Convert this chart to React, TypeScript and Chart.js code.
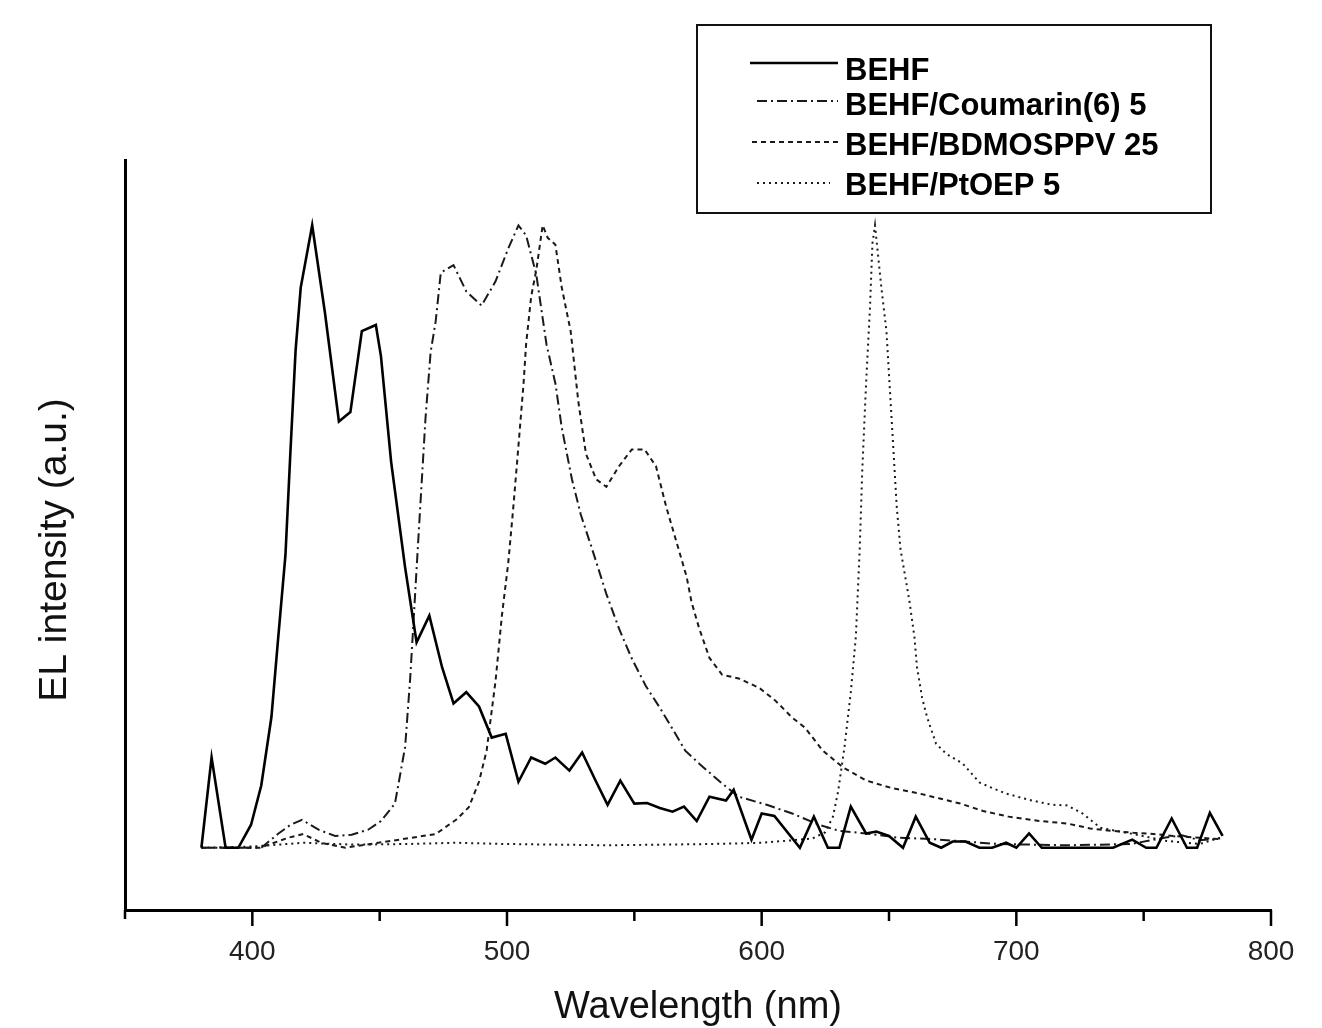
import React, { useEffect, useRef } from 'react';
import { Chart, registerables } from 'chart.js';

Chart.register(...registerables);

// ---------- data ----------
const seriesNames = ['BEHF', 'BEHF/Coumarin(6) 5', 'BEHF/BDMOSPPV 25', 'BEHF/PtOEP 5'];
const xTitle = 'Wavelength (nm)';
const yTitle = 'EL intensity (a.u.)';
const xTickValues = [350, 400, 450, 500, 550, 600, 650, 700, 750, 800];
const xTickLabels = ['', '400', '', '500', '', '600', '', '700', '', '800'];

const behfWl = [380, 384, 389.5, 394.5, 399.5, 403.5, 407.5, 410, 413, 415, 417, 419, 423.5, 428.5, 434, 438.5, 443, 448.5, 450.5, 454.5, 460, 464.5, 469.5, 474.5, 479, 484, 489, 494, 499.5, 504.5, 509.5, 515, 519, 524.5, 529.5, 535, 539.5, 544.5, 550, 555, 560, 565, 569.5, 574.5, 579.5, 586, 589, 596, 600, 605, 615, 620.5, 626, 630.5, 635, 641, 645, 650, 655.5, 660.5, 666, 670.5, 675, 680, 685.5, 690.5, 696, 700, 705, 710, 714, 738, 745.5, 751, 755, 761, 767, 771, 776, 781];
const behfVal = [0, 0.145, 0, 0, 0.037, 0.1, 0.21, 0.33, 0.47, 0.64, 0.8, 0.9, 1.0, 0.86, 0.685, 0.7, 0.83, 0.84, 0.79, 0.62, 0.45, 0.33, 0.373, 0.29, 0.232, 0.25, 0.227, 0.177, 0.183, 0.106, 0.145, 0.135, 0.145, 0.124, 0.153, 0.106, 0.069, 0.108, 0.071, 0.072, 0.064, 0.058, 0.066, 0.043, 0.082, 0.076, 0.093, 0.013, 0.055, 0.051, 0, 0.05, 0, 0, 0.066, 0.023, 0.026, 0.019, 0, 0.05, 0.008, 0, 0.01, 0.01, 0, 0, 0.008, 0, 0.023, 0, 0, 0, 0.013, 0, 0, 0.047, 0, 0, 0.056, 0.019];

const coumWl = [380, 403.5, 410, 415, 419.5, 426, 432.5, 439, 445.5, 450.5, 456, 460, 462, 464, 465.5, 466.5, 468, 470, 472, 474, 479, 484, 490, 495.5, 500.5, 504.5, 507.5, 511.5, 513.5, 515.5, 519, 521.5, 525.5, 529, 533.5, 539, 544, 549, 554.5, 560, 565, 570, 575.5, 584.5, 591, 602, 612, 622.5, 630.5, 641, 654, 667, 680, 693, 720, 745, 758, 765, 772, 780];
const coumVal = [0, 0, 0.022, 0.037, 0.045, 0.029, 0.019, 0.021, 0.029, 0.043, 0.071, 0.162, 0.273, 0.413, 0.518, 0.587, 0.69, 0.796, 0.846, 0.924, 0.936, 0.894, 0.871, 0.91, 0.963, 1.0, 0.984, 0.921, 0.865, 0.809, 0.746, 0.675, 0.592, 0.535, 0.479, 0.408, 0.352, 0.304, 0.26, 0.225, 0.191, 0.156, 0.135, 0.103, 0.082, 0.069, 0.055, 0.037, 0.027, 0.023, 0.016, 0.014, 0.01, 0.006, 0.004, 0.006, 0.016, 0.02, 0.012, 0.015];

const bdmWl = [380, 403, 414, 420, 427, 436.5, 449.5, 462.5, 472, 480, 485, 489, 492, 495.5, 498, 500.5, 502.5, 504.5, 506.5, 507.5, 509.5, 511.5, 514, 516, 519, 521.5, 525, 528, 531, 535, 539, 544, 549, 554, 558.5, 562.5, 566.5, 570.5, 572.5, 575.5, 579.5, 584.5, 591, 599, 605.5, 612, 617, 624, 632, 641, 651, 661, 670, 678, 687, 697, 709, 720, 729, 738, 746, 754, 761.5, 772, 780];
const bdmVal = [0, 0, 0.016, 0.022, 0.008, 0, 0.008, 0.016, 0.022, 0.045, 0.065, 0.106, 0.156, 0.268, 0.373, 0.458, 0.548, 0.646, 0.746, 0.809, 0.886, 0.928, 1.0, 0.98, 0.969, 0.9, 0.83, 0.717, 0.633, 0.592, 0.58, 0.613, 0.64, 0.64, 0.613, 0.548, 0.492, 0.436, 0.394, 0.352, 0.305, 0.278, 0.272, 0.257, 0.236, 0.209, 0.193, 0.156, 0.129, 0.108, 0.096, 0.088, 0.079, 0.071, 0.059, 0.05, 0.043, 0.039, 0.031, 0.027, 0.024, 0.022, 0.019, 0.016, 0.014];

const ptWl = [380, 400, 420, 440, 460, 480, 500, 520, 540, 560, 580, 600, 612, 620, 625, 628, 630, 632.5, 635, 637, 638.5, 639.5, 641, 642.5, 643.5, 644.5, 647, 649, 650, 651.5, 653, 654.5, 658, 660, 661, 663, 665, 668.5, 672.5, 679, 685.5, 690.5, 696, 706, 714, 720, 726, 733, 746, 759, 772, 780];
const ptVal = [0, 0.002, 0.008, 0.005, 0.006, 0.008, 0.006, 0.005, 0.004, 0.005, 0.006, 0.008, 0.012, 0.015, 0.025, 0.05, 0.09, 0.161, 0.25, 0.34, 0.48, 0.606, 0.746, 0.865, 0.971, 1.0, 0.9, 0.83, 0.76, 0.656, 0.55, 0.48, 0.397, 0.338, 0.29, 0.241, 0.209, 0.167, 0.151, 0.135, 0.105, 0.096, 0.087, 0.076, 0.069, 0.068, 0.055, 0.032, 0.022, 0.011, 0.006, 0.016];

// ---------- styles ----------
const W = 1322;
const H = 1028;
const lineDashes = [[], [10, 4, 2, 4], [5, 4], [2, 4]];
const lineWidths = [2.6, 2, 2, 2];
const lineColors = ['#000', '#1a1a1a', '#1a1a1a', '#1a1a1a'];

const toPoints = (xs: number[], ys: number[]) => xs.map((x, i) => ({ x, y: ys[i] }));

const overlay = {
  id: 'overlay',
  afterDraw(chart: any) {
    const ctx = chart.ctx;
    const xs = chart.scales.x;
    const area = chart.chartArea;
    ctx.save();
    // x tick marks
    ctx.strokeStyle = '#000';
    ctx.lineWidth = 2.5;
    xTickValues.forEach((v, i) => {
      const px = xs.getPixelForValue(v);
      const len = xTickLabels[i] ? 16 : i === 0 ? 9 : 11;
      ctx.beginPath();
      ctx.moveTo(px, area.bottom);
      ctx.lineTo(px, area.bottom + len);
      ctx.stroke();
    });
    // axis titles
    ctx.fillStyle = '#111';
    ctx.font = '38px "Liberation Sans", Arial, sans-serif';
    ctx.textAlign = 'center';
    ctx.textBaseline = 'alphabetic';
    ctx.fillText(xTitle, (area.left + area.right) / 2, 1018);
    ctx.save();
    ctx.translate(66, 550);
    ctx.rotate(-Math.PI / 2);
    ctx.font = '39px "Liberation Sans", Arial, sans-serif';
    ctx.fillText(yTitle, 0, 0);
    ctx.restore();
    // legend box
    const bx = 697, by = 25, bw = 514, bh = 188;
    ctx.fillStyle = '#fff';
    ctx.fillRect(bx, by, bw, bh);
    ctx.strokeStyle = '#111';
    ctx.lineWidth = 2;
    ctx.setLineDash([]);
    ctx.strokeRect(bx, by, bw, bh);
    const textY = [71, 106, 146, 186];
    const lineY = [63, 101, 142, 183];
    const lineX0 = [750, 757, 752, 757];
    const lineX1 = [838, 838, 838, 830];
    ctx.font = 'bold 31px "Liberation Sans", Arial, sans-serif';
    ctx.textAlign = 'left';
    ctx.textBaseline = 'middle';
    seriesNames.forEach((name, i) => {
      ctx.strokeStyle = lineColors[i];
      ctx.lineWidth = lineWidths[i];
      ctx.setLineDash(lineDashes[i]);
      ctx.beginPath();
      ctx.moveTo(lineX0[i], lineY[i]);
      ctx.lineTo(lineX1[i], lineY[i]);
      ctx.stroke();
      ctx.setLineDash([]);
      ctx.fillStyle = '#000';
      ctx.fillText(name, 845, textY[i]);
    });
    ctx.restore();
  },
};

export default function App() {
  const ref = useRef<HTMLCanvasElement | null>(null);
  useEffect(() => {
    document.body.style.margin = '0';
    const canvas = ref.current;
    if (!canvas) return;
    const series = [
      toPoints(behfWl, behfVal),
      toPoints(coumWl, coumVal),
      toPoints(bdmWl, bdmVal),
      toPoints(ptWl, ptVal),
    ];
    const chart = new Chart(canvas, {
      type: 'line',
      data: {
        datasets: series.map((data, i) => ({
          label: seriesNames[i],
          data,
          borderColor: lineColors[i],
          borderWidth: lineWidths[i],
          borderDash: lineDashes[i],
          pointRadius: 0,
          tension: 0,
          fill: false,
        })),
      },
      options: {
        responsive: false,
        animation: false,
        devicePixelRatio: 1,
        layout: { padding: { top: 160, right: 51, left: 0, bottom: 0 } },
        plugins: { legend: { display: false }, tooltip: { enabled: false } },
        scales: {
          x: {
            type: 'linear',
            min: 350,
            max: 800,
            afterFit: (s: any) => { s.height = 118; },
            afterBuildTicks: (s: any) => { s.ticks = xTickValues.map((v) => ({ value: v })); },
            ticks: {
              autoSkip: false,
              maxRotation: 0,
              padding: 25,
              color: '#222',
              font: { family: '"Liberation Sans", Arial, sans-serif', size: 28 },
              callback: (v: any) => {
                const i = xTickValues.indexOf(Number(v));
                return i >= 0 ? xTickLabels[i] : '';
              },
            },
            grid: { display: true, drawOnChartArea: false, drawTicks: false },
            border: { display: true, color: '#000', width: 3 },
          },
          y: {
            type: 'linear',
            min: -0.1,
            max: 1.105,
            afterFit: (s: any) => { s.width = 125; },
            ticks: { display: false },
            grid: { display: false, drawTicks: false },
            border: { display: true, color: '#000', width: 3 },
          },
        },
      },
      plugins: [overlay],
    });
    return () => chart.destroy();
  }, []);
  return (
    <canvas ref={ref} width={W} height={H} style={{ display: 'block', width: W, height: H }} />
  );
}
